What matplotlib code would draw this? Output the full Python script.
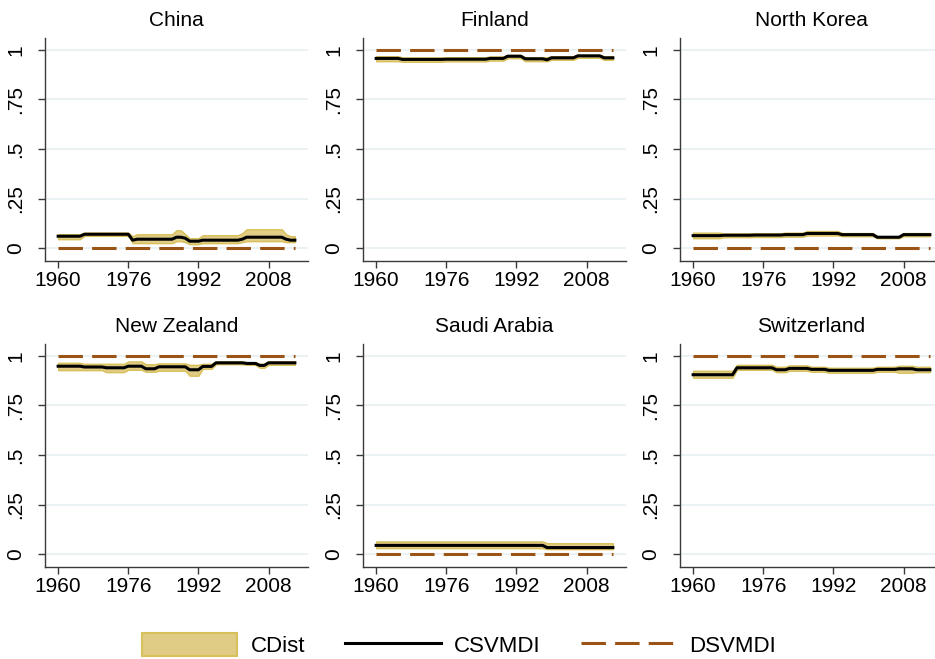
import numpy as np
import matplotlib
matplotlib.use("Agg")
import matplotlib.pyplot as plt
from matplotlib.patches import Patch
from matplotlib.lines import Line2D

plt.rcParams['font.family'] = ['Liberation Sans', 'DejaVu Sans']

years = list(range(1960, 2015))
countries = ["China", "Finland", "North Korea", "New Zealand", "Saudi Arabia", "Switzerland"]

# CSVMDI (mid), CDist band (lo/hi), DSVMDI (flat)
csvmdi = {
    "China": [0.06]*6 + [0.07]*11 + [0.04] + [0.045]*9 + [0.055]*2 + [0.05] + [0.035]*3
             + [0.04]*9 + [0.045] + [0.055]*9 + [0.045] + [0.04]*2,
    "Finland": [0.957]*6 + [0.952]*10 + [0.953]*10 + [0.957]*4 + [0.968]*4 + [0.955]*5 + [0.95]
               + [0.96]*6 + [0.97]*6 + [0.96]*3,
    "North Korea": [0.063]*7 + [0.065]*7 + [0.066]*7 + [0.068]*5 + [0.074]*8 + [0.068]*8
                   + [0.055]*6 + [0.068]*7,
    "New Zealand": [0.948]*6 + [0.944]*5 + [0.94]*5 + [0.948]*4 + [0.935]*3 + [0.945]*7 + [0.93]*3
                   + [0.947]*3 + [0.965]*7 + [0.962]*3 + [0.952]*2 + [0.965]*7,
    "Saudi Arabia": [0.044]*39 + [0.033]*16,
    "Switzerland": [0.905]*10 + [0.94]*9 + [0.93]*3 + [0.937]*5 + [0.932]*4 + [0.927]*11
                   + [0.932]*5 + [0.935]*4 + [0.93]*4,
}
cdist_lo = {
    "China": [0.045]*6 + [0.062]*11 + [0.025] + [0.025]*9 + [0.035]*2 + [0.03] + [0.02]*3
             + [0.025]*9 + [0.03] + [0.035]*9 + [0.03] + [0.03]*2,
    "Finland": [0.943]*6 + [0.94]*10 + [0.942]*10 + [0.946]*4 + [0.958]*4 + [0.943]*6
               + [0.95]*6 + [0.96]*6 + [0.95]*3,
    "North Korea": [0.05]*7 + [0.055]*7 + [0.056]*7 + [0.058]*5 + [0.064]*8 + [0.06]*8
                   + [0.05]*6 + [0.06]*7,
    "New Zealand": [0.928]*6 + [0.928]*5 + [0.918]*5 + [0.93]*4 + [0.92]*3 + [0.925]*7 + [0.9]*3
                   + [0.935]*3 + [0.958]*7 + [0.955]*3 + [0.94]*2 + [0.955]*7,
    "Saudi Arabia": [0.03]*39 + [0.025]*16,
    "Switzerland": [0.89]*10 + [0.93]*9 + [0.918]*3 + [0.925]*5 + [0.92]*4 + [0.915]*11
                   + [0.92]*5 + [0.915]*4 + [0.918]*4,
}
cdist_hi = {
    "China": [0.07]*6 + [0.078]*11 + [0.06] + [0.07]*9 + [0.09]*2 + [0.07] + [0.05]*3
             + [0.065]*9 + [0.075] + [0.095]*9 + [0.07] + [0.06]*2,
    "Finland": [0.968]*6 + [0.962]*10 + [0.963]*10 + [0.967]*4 + [0.975]*4 + [0.963]*6
               + [0.968]*6 + [0.975]*6 + [0.968]*3,
    "North Korea": [0.078]*7 + [0.074]*7 + [0.075]*7 + [0.078]*5 + [0.086]*8 + [0.076]*8
                   + [0.06]*6 + [0.076]*7,
    "New Zealand": [0.965]*6 + [0.96]*5 + [0.96]*5 + [0.972]*4 + [0.958]*3 + [0.962]*7 + [0.955]*3
                   + [0.96]*3 + [0.972]*7 + [0.968]*3 + [0.96]*2 + [0.972]*7,
    "Saudi Arabia": [0.064]*39 + [0.055]*16,
    "Switzerland": [0.925]*10 + [0.955]*9 + [0.945]*3 + [0.952]*5 + [0.945]*4 + [0.94]*11
                   + [0.945]*5 + [0.95]*4 + [0.945]*4,
}
dsvmdi = {"China": 0, "Finland": 1, "North Korea": 0,
          "New Zealand": 1, "Saudi Arabia": 0, "Switzerland": 1}

xticks = [1960, 1976, 1992, 2008]
yticks = [0, 0.25, 0.5, 0.75, 1]
ylabels = ["0", ".25", ".5", ".75", "1"]

band_c = "#e0cc84"
band_edge = "#d8c05a"
dash_c = "#9a5516"
axis_c = "#3a3a3a"

W, H = 935, 659
fig = plt.figure(figsize=(W/100, H/100), dpi=100)

lefts = [45, 363, 680]
bottoms = [261, 567]
aw, ah = 263, 223

for i, c in enumerate(countries):
    r, k = divmod(i, 3)
    ax = fig.add_axes([lefts[k]/W, (H - bottoms[r])/H, aw/W, ah/H])
    yr = np.array(years)
    ax.fill_between(yr, cdist_lo[c], cdist_hi[c], color=band_c, edgecolor=band_edge, lw=1, zorder=2)
    ax.plot(yr, csvmdi[c], color="black", lw=2.2, zorder=3)
    ax.plot(yr, [dsvmdi[c]]*len(yr), color=dash_c, lw=2.2, dashes=(8, 3), zorder=3)
    ax.set_xlim(1957, 2017)
    ax.set_ylim(-0.065, 1.06)
    ax.set_xticks(xticks)
    ax.set_yticks(yticks)
    ax.set_yticklabels(ylabels, rotation=90, va="center")
    ax.tick_params(axis="both", colors=axis_c, labelcolor="black", labelsize=15, length=5, width=1)
    ax.tick_params(axis="y", pad=9)
    ax.tick_params(axis="x", pad=2)
    for s in ["top", "right"]:
        ax.spines[s].set_visible(False)
    for s in ["left", "bottom"]:
        ax.spines[s].set_color(axis_c)
        ax.spines[s].set_linewidth(1)
    ax.grid(axis="y", color="#e8f0f2", lw=1.2, zorder=0)
    ax.set_axisbelow(True)
    ax.set_title(c, fontsize=15, pad=9)

handles = [Patch(facecolor=band_c, edgecolor=band_edge, lw=1.5),
           Line2D([], [], color="black", lw=2.2),
           Line2D([], [], color=dash_c, lw=2.2, dashes=(8, 3))]
fig.legend(handles, ["CDist", "CSVMDI", "DSVMDI"], loc="center", ncol=3,
           bbox_to_anchor=(0.491, 0.021), frameon=False, fontsize=16,
           handlelength=4.3, handleheight=1.2, handletextpad=0.6, columnspacing=1.8)

fig.savefig("out.png", dpi=100)
